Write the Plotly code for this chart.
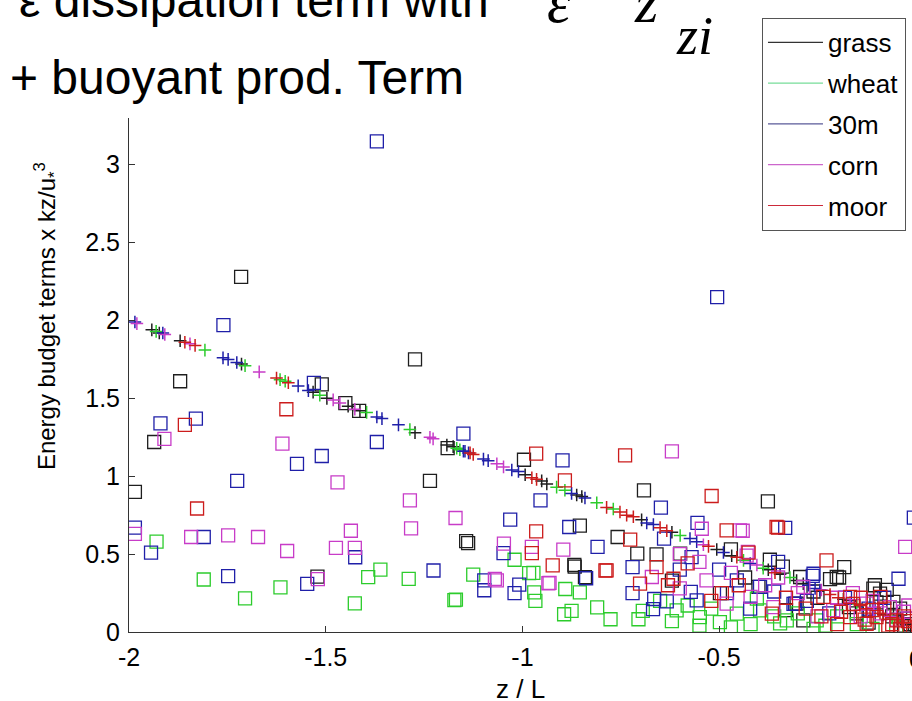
import plotly.graph_objects as go

# ---------------- data ----------------
series_names = ["grass", "wheat", "30m", "corn", "moor"]

# dissipation term (open squares)
grass_sq_x = [-1.715, -1.273, -1.87, -1.936, -1.985, -1.235, -1.45, -1.415, -1.51, -1.19, -1.143, -1.138,
              -0.996, -0.691, -0.376, -0.854, -0.659, -0.371, -0.868, -0.182, -0.108, -0.294, -0.498, -0.758,
              -0.599, -0.057, -0.708, -0.201, -0.303, -0.091, -0.841, -0.867, -1.521, -0.074, -0.218, -0.338,
              -0.434, -0.286, -0.04, -0.023, -0.104, -0.195, -0.013, -0.15, -0.25, -0.47, -0.40, -0.12, -0.06,
              -0.17, -0.10, -0.03, -0.26, -0.33, -0.62]
grass_sq_y = [2.28, 1.75, 1.61, 1.22, 0.90, 0.97, 1.47, 1.42, 1.59, 1.18, 0.584, 0.57,
              1.106, 0.909, 0.839, 0.683, 0.498, 0.464, 0.430, 0.417, 0.278, 0.353, 0.250, 0.610,
              0.503, 0.193, 0.503, 0.353, 0.182, 0.246, 0.352, 0.42, 0.356, 0.27, 0.34, 0.42,
              0.35, 0.075, 0.15, 0.086, 0.30, 0.35, 0.05, 0.12, 0.22, 0.53, 0.29, 0.06, 0.10,
              0.16, 0.19, 0.04, 0.26, 0.14, 0.33]

wheat_sq_x = [-1.93, -1.81, -1.705, -1.615, -1.426, -1.392, -1.361, -1.289, -1.173, -1.125, -0.983, -0.97,
              -0.967, -0.891, -0.854, -0.894, -0.875, -0.81, -0.776, -0.705, -0.694, -1.020, -0.972, -0.608,
              -0.549, -0.498, -0.396, -0.252, -1.169, -0.404, -0.328, -0.455, -0.345, -0.23, -0.62, -0.58,
              -0.47, -0.30, -0.20, -0.15, -0.52, -0.26, -0.36, -0.42, -0.11, -0.05, -0.55, -0.65]
wheat_sq_y = [0.58, 0.337, 0.216, 0.287, 0.184, 0.352, 0.40, 0.341, 0.205, 0.369, 0.378, 0.255,
              0.20, 0.276, 0.255, 0.114, 0.136, 0.158, 0.082, 0.082, 0.136, 0.464, 0.379, 0.139,
              0.096, 0.064, 0.139, 0.075, 0.208, 0.214, 0.075, 0.118, 0.055, 0.04, 0.07, 0.17,
              0.03, 0.12, 0.10, 0.05, 0.15, 0.02, 0.10, 0.05, 0.02, 0.03, 0.04, 0.20]

m30_sq_x = [-1.37, -0.505, -1.76, -1.92, -1.83, -1.53, -1.37, -1.573, -1.51, -1.725, -1.985, -1.944,
            -1.81, -1.748, -1.547, -1.425, -1.226, -1.15, -0.898, -0.648, -1.031, -0.881, -0.555, -0.332,
            -1.048, -0.809, -0.838, -1.097, -1.097, -1.008, -1.020, -0.720, -0.720, -0.665, -0.633, -0.572,
            -0.557, -0.044, -0.005, -0.307, -0.260, -0.421, -0.954, -0.455, -0.570, -0.396, -0.311, -0.277,
            -0.262, -0.668, -0.12, -0.18, -0.35, -0.50, -0.08, -0.22, -0.36, -0.48, -0.60, -0.64]
m30_sq_y = [3.15, 2.15, 1.97, 1.34, 1.37, 1.60, 1.22, 1.08, 1.13, 0.97, 0.67, 0.51,
            0.61, 0.359, 0.309, 0.48, 0.395, 1.273, 1.102, 0.798, 0.721, 0.674, 0.700, 0.668,
            0.507, 0.546, 0.345, 0.332, 0.268, 0.304, 0.250, 0.417, 0.250, 0.212, 0.197, 0.257,
            0.203, 0.342, 0.734, 0.182, 0.374, 0.150, 0.845, 0.332, 0.481, 0.29, 0.18, 0.20,
            0.36, 0.147, 0.15, 0.22, 0.45, 0.40, 0.22, 0.12, 0.26, 0.25, 0.40, 0.60]

corn_sq_x = [-1.91, -1.985, -1.61, -1.842, -1.748, -1.672, -1.598, -1.474, -1.436, -1.426, -1.283, -1.47,
             -1.286, -1.17, -1.07, -0.934, -0.620, -1.047, -0.976, -0.896, -0.931, -0.447, -0.544, -0.427,
             -0.027, -0.532, -0.671, -0.481, -0.383, -0.286, -0.125, -1.065, -0.44, -0.43, -0.21, -0.362,
             -0.42, -0.066, -0.019, -1.52, -0.16, -0.09, -0.05, -0.60, -0.25, -0.20, -0.14, -0.11, -0.03,
             -0.30, -0.35, -0.47, -0.55, -0.60]
corn_sq_y = [1.24, 0.63, 1.21, 0.61, 0.62, 0.61, 0.52, 0.54, 0.65, 0.54, 0.665, 0.96,
             0.845, 0.732, 0.341, 0.313, 1.160, 0.567, 0.546, 0.529, 0.315, 0.653, 0.663, 0.514,
             0.546, 0.332, 0.353, 0.182, 0.300, 0.289, 0.182, 0.332, 0.65, 0.49, 0.14, 0.16,
             0.225, 0.16, 0.17, 0.34, 0.25, 0.12, 0.08, 0.28, 0.10, 0.22, 0.10, 0.20, 0.13,
             0.25, 0.35, 0.38, 0.45, 0.50]

moor_sq_x = [-1.858, -1.60, -1.827, -0.965, -0.739, -0.965, -0.892, -0.519, -0.976, -0.923, -0.786, -0.726,
             -0.227, -0.354, -0.481, -0.616, -0.701, -0.493, -0.167, -0.125, -0.366, -0.235, -0.659, -0.789,
             -0.35, -0.425, -0.167, -0.10, -0.049, -0.015, -0.09, -0.63, -0.58, -0.07, -0.03, -0.20,
             -0.28, -0.11, -0.04, -0.19, -0.16, -0.13, -0.08, -0.06, -0.02, -0.14, -0.24, -0.33, -0.45,
             -0.52]
moor_sq_y = [1.33, 1.43, 0.793, 1.145, 1.134, 0.646, 0.974, 0.873, 0.507, 0.428, 0.396, 0.593,
             0.460, 0.674, 0.653, 0.342, 0.310, 0.250, 0.096, 0.053, 0.118, 0.225, 0.417, 0.395,
             0.67, 0.51, 0.225, 0.096, 0.075, 0.03, 0.225, 0.30, 0.44, 0.04, 0.10, 0.05,
             0.15, 0.14, 0.02, 0.13, 0.18, 0.08, 0.15, 0.05, 0.07, 0.22, 0.10, 0.22, 0.30,
             0.20]

# buoyant production term (plus signs)
grass_pl_x = [-1.942, -1.923, -1.870, -1.714, -1.532, -1.497, -1.443, -1.413, -1.273, -1.192, -1.176, -0.993,
              -0.951, -0.938, -0.862, -0.849, -0.697, -0.620, -0.506, -0.468, -0.375, -0.345, -0.303, -0.286,
              -0.184, -0.083, -0.019]
grass_pl_y = [1.94, 1.92, 1.87, 1.72, 1.54, 1.50, 1.45, 1.42, 1.28, 1.20, 1.19, 1.01,
              0.97, 0.95, 0.88, 0.87, 0.72, 0.64, 0.53, 0.49, 0.40, 0.37, 0.33, 0.31,
              0.21, 0.11, 0.05]
wheat_pl_x = [-1.931, -1.807, -1.705, -1.616, -1.603, -1.515, -1.396, -1.286, -1.167, -1.159, -0.913, -0.892,
              -0.811, -0.769, -0.599, -0.438, -0.388, -0.320, -0.15, -0.06]
wheat_pl_y = [1.93, 1.81, 1.71, 1.62, 1.61, 1.52, 1.41, 1.30, 1.18, 1.17, 0.93, 0.91,
              0.83, 0.79, 0.62, 0.46, 0.41, 0.35, 0.18, 0.09]
m30_pl_x = [-1.985, -1.914, -1.761, -1.748, -1.726, -1.570, -1.544, -1.370, -1.357, -1.315, -1.150, -1.146,
            -1.137, -1.099, -1.087, -1.027, -1.010, -0.875, -0.841, -0.684, -0.667, -0.574, -0.557, -0.489,
            -0.421, -0.273, -0.256, -0.244, -0.11]
m30_pl_y = [1.99, 1.92, 1.76, 1.75, 1.73, 1.58, 1.55, 1.38, 1.37, 1.33, 1.16, 1.16,
            1.15, 1.11, 1.10, 1.04, 1.03, 0.89, 0.86, 0.70, 0.69, 0.60, 0.58, 0.51,
            0.44, 0.30, 0.28, 0.27, 0.14]
corn_pl_x = [-1.980, -1.909, -1.845, -1.669, -1.481, -1.464, -1.426, -1.235, -1.227, -1.065, -1.048, -0.540,
             -0.404, -0.24, -0.167, -0.108, -0.066, -0.03]
corn_pl_y = [1.98, 1.91, 1.85, 1.67, 1.49, 1.47, 1.43, 1.25, 1.24, 1.08, 1.06, 0.56,
             0.43, 0.27, 0.19, 0.14, 0.10, 0.06]
moor_pl_x = [-1.858, -1.832, -1.625, -1.595, -1.133, -1.125, -0.976, -0.964, -0.786, -0.752, -0.735, -0.718,
             -0.650, -0.633, -0.527, -0.455, -0.358, -0.218, -0.197, -0.142, -0.125, -0.091, -0.048, -0.032,
             -0.01]
moor_pl_y = [1.86, 1.84, 1.63, 1.60, 1.15, 1.14, 0.99, 0.98, 0.80, 0.77, 0.75, 0.74,
             0.67, 0.65, 0.55, 0.48, 0.38, 0.24, 0.22, 0.17, 0.15, 0.12, 0.08, 0.06,
             0.04]

x_tick_vals = [-2, -1.5, -1, -0.5]
x_tick_text = ["-2", "-1.5", "-1", "-0.5"]
y_tick_vals = [0, 0.5, 1, 1.5, 2, 2.5, 3]
y_tick_text = ["0", "0.5", "1", "1.5", "2", "2.5", "3"]

# ---------------- styling ----------------
marker_colors = {"grass": "#1e1e1e", "wheat": "#2ccc2c", "30m": "#1f1fa8", "corn": "#c83cc8", "moor": "#cc1c1c"}
legend_colors = {"grass": "#333333", "wheat": "#77dd99", "30m": "#5a5a99", "corn": "#cc66cc", "moor": "#cc2a3a"}

squares = {
    "grass": (grass_sq_x, grass_sq_y), "wheat": (wheat_sq_x, wheat_sq_y), "30m": (m30_sq_x, m30_sq_y),
    "corn": (corn_sq_x, corn_sq_y), "moor": (moor_sq_x, moor_sq_y),
}
pluses = {
    "grass": (grass_pl_x, grass_pl_y), "wheat": (wheat_pl_x, wheat_pl_y), "30m": (m30_pl_x, m30_pl_y),
    "corn": (corn_pl_x, corn_pl_y), "moor": (moor_pl_x, moor_pl_y),
}

FONT = "Arial, Liberation Sans, Helvetica, sans-serif"
SERIF = "Times New Roman, Liberation Serif, serif"

fig = go.Figure()

for name in series_names:
    sx, sy = squares[name]
    px, py = pluses[name]
    c = marker_colors[name]
    fig.add_trace(go.Scatter(x=sx, y=sy, mode="markers", showlegend=False, name=name,
                             marker=dict(symbol="square-open", size=13, color=c, line=dict(width=1.3, color=c))))
    fig.add_trace(go.Scatter(x=px, y=py, mode="markers", showlegend=False, name=name,
                             marker=dict(symbol="cross-thin-open", size=9, color=c, line=dict(width=1.5, color=c))))

# legend entries (lines, as in the original)
for name in series_names:
    fig.add_trace(go.Scatter(x=[None], y=[None], mode="lines", name=name, legendgroup=name,
                             line=dict(color=legend_colors[name], width=1.2)))

fig.update_layout(
    width=912, height=701,
    margin=dict(l=129, r=0, t=118, b=69),
    paper_bgcolor="white", plot_bgcolor="white",
    font=dict(family=FONT, color="black"),
    showlegend=True,
    legend=dict(x=0.8084, y=1.1947, xanchor="left", yanchor="top",
                bgcolor="white", bordercolor="#555555", borderwidth=1,
                font=dict(family=FONT, size=26, color="black"),
                itemwidth=55, tracegroupgap=4, traceorder="grouped"),
    xaxis=dict(range=[-2, -0.0097], tickmode="array", tickvals=x_tick_vals, ticktext=x_tick_text,
               showline=True, linecolor="#333333", linewidth=1, mirror=False,
               ticks="inside", ticklen=6, tickcolor="#333333", tickwidth=1,
               showgrid=False, zeroline=False, tickfont=dict(size=25, family=FONT, color="black"),
               ticklabelstandoff=3),
    yaxis=dict(range=[0, 3.3], tickmode="array", tickvals=y_tick_vals, ticktext=y_tick_text,
               showline=True, linecolor="#333333", linewidth=1, mirror=False,
               ticks="inside", ticklen=6, tickcolor="#333333", tickwidth=1,
               showgrid=False, zeroline=False, tickfont=dict(size=25, family=FONT, color="black"),
               ticklabelstandoff=3),
)

annotations = [
    # x tick "0" at the (cut-off) right edge
    dict(text="0", xref="paper", yref="paper", x=1.005, y=-0.052, xanchor="center", yanchor="middle",
         showarrow=False, font=dict(size=25, family=FONT, color="black")),
    # axis titles
    dict(text="z / L", xref="paper", yref="paper", x=0.4994, y=-0.1115, xanchor="center", yanchor="middle",
         showarrow=False, font=dict(size=26, family=FONT, color="black")),
    dict(text="Energy budget terms x kz/u<sub>*</sub><sup>3</sup>", xref="paper", yref="paper",
         x=-0.1047, y=0.6146, xanchor="center", yanchor="middle", textangle=-90,
         showarrow=False, font=dict(size=24, family=FONT, color="black")),
    # slide text above the chart
    dict(text="ε dissipation term with", xref="paper", yref="paper", x=-0.143, y=1.2842,
         xanchor="left", yanchor="top", showarrow=False, font=dict(size=48, family=FONT, color="black")),
    dict(text="+ buoyant prod. Term", xref="paper", yref="paper", x=-0.1545, y=1.1335,
         xanchor="left", yanchor="top", showarrow=False, font=dict(size=48, family=FONT, color="black")),
    dict(text="<i>ε</i>", xref="paper", yref="paper", x=(545 - 129) / 783, y=1.294,
         xanchor="left", yanchor="top", showarrow=False, font=dict(size=60, family=SERIF, color="black")),
    dict(text="<i>z</i>", xref="paper", yref="paper", x=(632 - 129) / 783, y=1.294,
         xanchor="left", yanchor="top", showarrow=False, font=dict(size=60, family=SERIF, color="black")),
    dict(text="<i>zi</i>", xref="paper", yref="paper", x=(674 - 129) / 783, y=1.222,
         xanchor="left", yanchor="top", showarrow=False, font=dict(size=54, family=SERIF, color="black")),
]
fig.update_layout(annotations=annotations)

fig.write_html("out.html")
